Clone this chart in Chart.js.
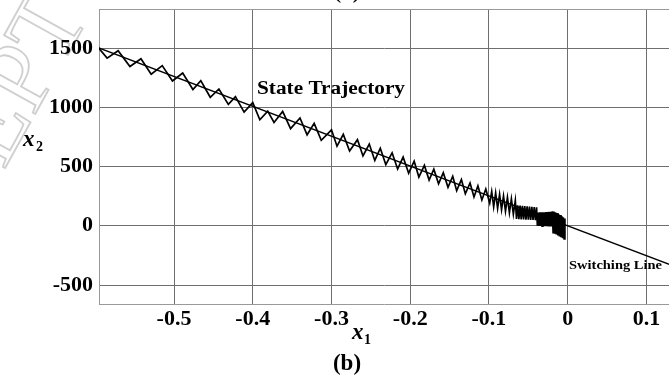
<!DOCTYPE html>
<html>
<head>
<meta charset="utf-8">
<script src="https://cdn.jsdelivr.net/npm/chart.js@4"></script>
<style>
  body { margin: 0; background: #fff; }
  canvas { display: block; }
</style>
</head>
<body>
<canvas id="phaseChart" width="669" height="375"></canvas>
<script>
// tick values
const xTicks = [-0.5, -0.4, -0.3, -0.2, -0.1, 0, 0.1];
const yTicks = [-500, 0, 500, 1000, 1500];

// switching line end points
const switchX1 = [-0.6, 0.13];
const switchX2 = [1512, -328];

// state trajectory (x1 = position, x2 = velocity)
const trajX1 = [
  -0.596, -0.585, -0.571, -0.556, -0.542, -0.529, -0.515, -0.502, -0.489, -0.476,
  -0.466, -0.454, -0.443, -0.431, -0.422, -0.411, -0.400, -0.391, -0.381,
  -0.373, -0.362, -0.352, -0.340, -0.331, -0.322, -0.313, -0.300, -0.293, -0.285,
  -0.277, -0.267, -0.260, -0.252, -0.245, -0.238, -0.231, -0.223, -0.216, -0.209,
  -0.202, -0.195, -0.189,
  -0.182, -0.176, -0.170, -0.164, -0.158, -0.152, -0.146, -0.141, -0.135, -0.130,
  -0.124, -0.119, -0.114, -0.109, -0.104, -0.099,
  -0.0965, -0.094, -0.0915, -0.089, -0.0865, -0.084, -0.0815, -0.079, -0.0765,
  -0.074, -0.0715, -0.069, -0.0665,
  -0.065, -0.0635, -0.062, -0.0605, -0.059, -0.0575, -0.056, -0.0545, -0.053,
  -0.0515, -0.050, -0.0485, -0.047, -0.0455, -0.044, -0.0425, -0.041, -0.0395,
  -0.0385, -0.0375, -0.0365, -0.0355, -0.0345, -0.0335, -0.0325, -0.0315, -0.0305,
  -0.0295, -0.0285, -0.0275, -0.0265, -0.0255, -0.0245, -0.0235, -0.0225, -0.0215,
  -0.0205,
  -0.0195, -0.0185, -0.0175, -0.0165, -0.0155, -0.0145, -0.0135, -0.0125, -0.0115,
  -0.0105, -0.0095, -0.0085, -0.0075, -0.0065, -0.0055, -0.0045, -0.0035
];
const trajX2 = [
  1503, 1415, 1478, 1345, 1410, 1280, 1352, 1222, 1290, 1150,
  1225, 1085, 1155, 1025, 1090, 960, 1040, 895, 968,
  872, 965, 820, 910, 768, 865, 722, 810, 672, 772,
  632, 727, 590, 690, 552, 655, 517, 616, 479, 580,
  444, 545, 411,
  510, 386, 478, 355, 448, 325, 418, 297, 390, 270,
  362, 243, 337, 218, 311, 192,
  290, 160, 278, 148, 265, 136, 252, 123, 240,
  110, 227, 98, 214,
  58, 172, 56, 170, 54, 168, 53, 166, 52,
  165, 51, 163, 50, 161, 49, 159, 48, 157,
  0, 112, -2, 113, -2, 114, -3, 114, -3,
  115, -4, 116, -4, 117, -5, 118, -5, 119,
  -6,
  122, -58, 120, -66, 115, -74, 108, -82, 100,
  -90, 92, -97, 83, -104, 73, -110, 62
];

const serif = "'Liberation Serif', 'Times New Roman', serif";

const toPoints = (xs, ys) => xs.map((x, i) => ({ x: x, y: ys[i] }));

// text in the figure is stretched sideways, so fit it to a width
function stretchText(ctx, text, x, y, width) {
  const w = ctx.measureText(text).width;
  ctx.save();
  ctx.translate(x, y);
  ctx.scale(width / w, 1);
  ctx.fillText(text, 0, 0);
  ctx.restore();
}

const figureText = {
  id: "figureText",
  beforeDraw(chart) {
    const ctx = chart.ctx;
    // faint watermark in the corner
    ctx.save();
    ctx.translate(90, 15);
    ctx.rotate(-61 * Math.PI / 180);
    ctx.font = "100px " + serif;
    ctx.strokeStyle = "#cfcfcf";
    ctx.lineWidth = 1.8;
    ctx.textAlign = "right";
    ctx.strokeText("ACCEPT", 0, 0);
    ctx.restore();
  },
  afterDraw(chart) {
    const ctx = chart.ctx;
    const area = chart.chartArea;
    ctx.save();
    // top frame line
    ctx.strokeStyle = "#999";
    ctx.lineWidth = 1;
    ctx.beginPath();
    ctx.moveTo(area.left, area.top + 0.5);
    ctx.lineTo(area.right, area.top + 0.5);
    ctx.stroke();

    ctx.fillStyle = "#000";
    ctx.textBaseline = "alphabetic";
    ctx.textAlign = "left";
    ctx.font = "bold 18px " + serif;
    stretchText(ctx, "State Trajectory", 257, 94, 148);
    ctx.font = "bold 13px " + serif;
    stretchText(ctx, "Switching Line", 569, 269, 93);

    // axis names
    ctx.font = "italic bold 23px " + serif;
    ctx.fillText("x", 352, 339);
    ctx.fillText("x", 23, 146);
    ctx.font = "bold 14px " + serif;
    ctx.fillText("1", 364, 344);
    ctx.fillText("2", 36, 151);

    ctx.textAlign = "center";
    ctx.font = "bold 23px " + serif;
    ctx.fillText("(b)", 347, 370);
    ctx.fillText("(a)", 347, -2);
    ctx.restore();
  }
};

new Chart(document.getElementById("phaseChart"), {
  type: "scatter",

  data: {
    datasets: [
      {
        label: "Switching Line",
        data: toPoints(switchX1, switchX2),
        showLine: true,
        borderColor: "#000",
        borderWidth: 1.4,
        pointRadius: 0,
      },
      {
        label: "State Trajectory",
        data: toPoints(trajX1, trajX2),
        showLine: true,
        borderColor: "#000",
        borderWidth: 1.7,
        pointRadius: 0,
        tension: 0,
      },
    ],
  },

  options: {
    responsive: false,
    animation: false,
    devicePixelRatio: 1,

    layout: {
      padding: { top: 9, left: 0, right: 0, bottom: 0 },
    },

    plugins: {
      legend: { display: false },
      tooltip: { enabled: false },
    },

    scales: {
      x: {
        type: "linear",
        min: -0.5953,
        max: 0.1287,
        afterBuildTicks: (scale) => {
          scale.ticks = xTicks.map((v) => ({ value: v }));
        },
        afterFit: (scale) => {
          scale.height = 71;
          scale.paddingLeft = 0;
          scale.paddingRight = 0;
        },
        grid: { color: "#6f6f6f", lineWidth: 1, drawTicks: false },
        border: { display: true, color: "#999" },
        ticks: {
          padding: 2,
          color: "#000",
          font: { family: serif, size: 22, weight: "bold" },
          callback: (v) => (Math.abs(v) < 1e-9 ? "0" : v.toFixed(1)),
        },
      },
      y: {
        type: "linear",
        min: -660,
        max: 1830,
        afterBuildTicks: (scale) => {
          scale.ticks = yTicks.map((v) => ({ value: v }));
        },
        afterFit: (scale) => {
          scale.width = 99;
          scale.paddingTop = 0;
          scale.paddingBottom = 0;
        },
        grid: { color: "#6f6f6f", lineWidth: 1, drawTicks: false },
        border: { display: true, color: "#999" },
        ticks: {
          padding: 6,
          color: "#000",
          font: { family: serif, size: 22, weight: "bold" },
          callback: (v) => String(v),
        },
      },
    },
  },

  plugins: [figureText],
});
</script>
</body>
</html>
